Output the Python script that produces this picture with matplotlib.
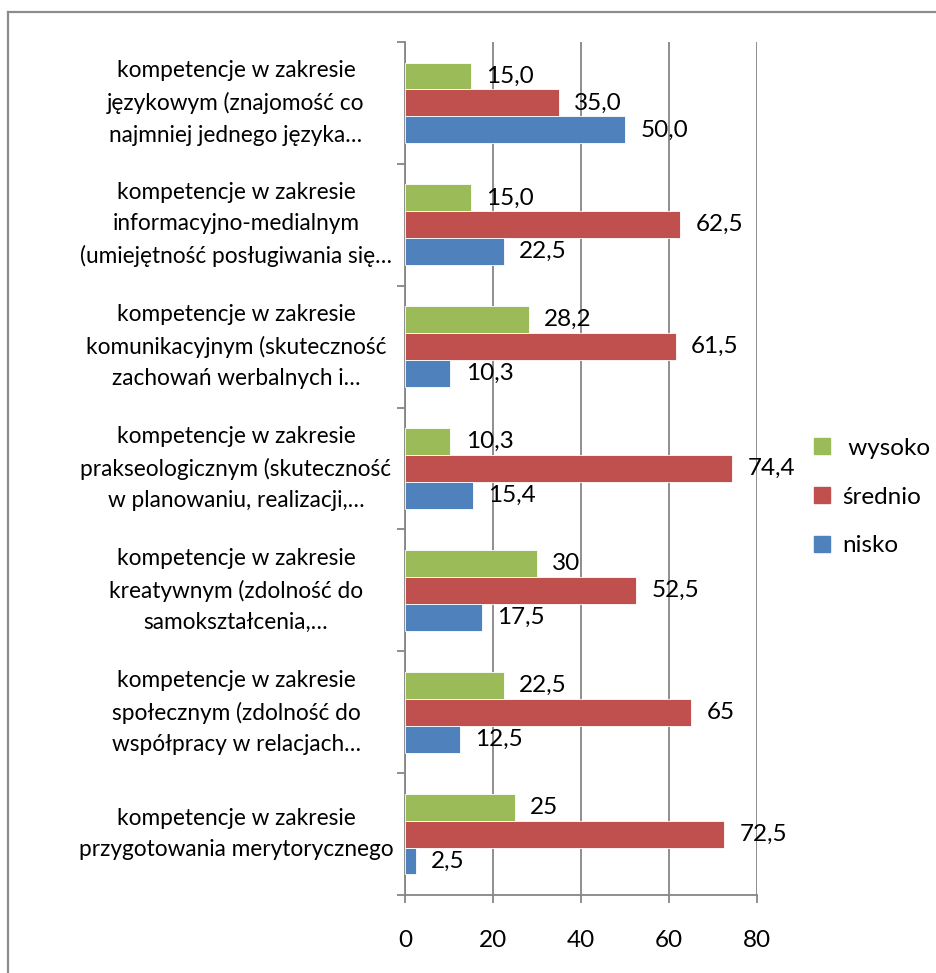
import numpy as np
import matplotlib.pyplot as plt
from matplotlib.patches import Patch
from matplotlib.lines import Line2D
from matplotlib.transforms import blended_transform_factory

plt.rcParams['font.family'] = ['Lato', 'DejaVu Sans']

categories = [
    'kompetencje w zakresie\njęzykowym (znajomość co\nnajmniej jednego języka…',
    'kompetencje w zakresie\ninformacyjno-medialnym\n(umiejętność posługiwania się…',
    'kompetencje w zakresie\nkomunikacyjnym (skuteczność\nzachowań werbalnych i…',
    'kompetencje w zakresie\nprakseologicznym (skuteczność\nw planowaniu, realizacji,…',
    'kompetencje w zakresie\nkreatywnym (zdolność do\nsamokształcenia,…',
    'kompetencje w zakresie\nspołecznym (zdolność do\nwspółpracy w relacjach…',
    'kompetencje w zakresie\nprzygotowania merytorycznego',
]
wysoko = [15.0, 15.0, 28.2, 10.3, 30, 22.5, 25]
srednio = [35.0, 62.5, 61.5, 74.4, 52.5, 65, 72.5]
nisko = [50.0, 22.5, 10.3, 15.4, 17.5, 12.5, 2.5]
wysoko_lbl = ['15,0', '15,0', '28,2', '10,3', '30', '22,5', '25']
srednio_lbl = ['35,0', '62,5', '61,5', '74,4', '52,5', '65', '72,5']
nisko_lbl = ['50,0', '22,5', '10,3', '15,4', '17,5', '12,5', '2,5']

c_w, c_s, c_n = '#9BBB59', '#C0504D', '#4F81BD'
grid_c = '#868686'
fs = 17.5
fs_cat = 16.3

fig = plt.figure(figsize=(9.37, 9.73), dpi=100)
ax = fig.add_axes([405 / 937, 1 - 895 / 973, 352 / 937, 853 / 973])

y = np.arange(len(categories))
h = 0.221
series = [(wysoko, wysoko_lbl, c_w, -h), (srednio, srednio_lbl, c_s, 0), (nisko, nisko_lbl, c_n, h)]
for vals, lbls, col, off in series:
    ax.barh(y + off, vals, height=h, color=col, edgecolor='white', linewidth=0.6, zorder=3)
    for yi, v, t in zip(y + off, vals, lbls):
        ax.annotate(t, (v, yi), xytext=(11, 0), textcoords='offset points',
                    ha='left', va='center', fontsize=fs, zorder=4)

ax.set_xlim(0, 80)
ax.set_ylim(len(categories) - 0.5, -0.5)
ax.set_xticks([0, 20, 40, 60, 80])
ax.set_yticks(np.arange(-0.5, len(categories), 1.0))
ax.set_yticklabels([])
ax.grid(axis='x', color=grid_c, linewidth=1.3, zorder=0)
for s in ['top', 'right']:
    ax.spines[s].set_visible(False)
for s in ['left', 'bottom']:
    ax.spines[s].set_color(grid_c)
    ax.spines[s].set_linewidth(1.3)
ax.tick_params(axis='both', colors=grid_c, length=6, width=1.3, labelsize=fs,
               labelcolor='black')
ax.tick_params(axis='x', pad=19)

tr = blended_transform_factory(ax.transAxes, ax.transData)
for yi, name in zip(y, categories):
    ax.text(-0.48, yi, name, transform=tr, ha='center', va='center',
            multialignment='center', fontsize=fs_cat, linespacing=1.6)

handles = [Patch(color=c_w), Patch(color=c_s), Patch(color=c_n)]
fig.legend(handles, [' wysoko', 'średnio', 'nisko'], loc='center left',
           bbox_to_anchor=(792 / 937, 1 - 497 / 973), frameon=False, fontsize=fs,
           handlelength=0.65, handleheight=0.65, handletextpad=0.5, labelspacing=1.15)

# outer frame (top and left edges)
fig.add_artist(Line2D([8 / 937, 1], [1 - 12 / 973] * 2, transform=fig.transFigure,
                      color='#8c8c8c', linewidth=1.6))
fig.add_artist(Line2D([8 / 937] * 2, [0, 1 - 12 / 973], transform=fig.transFigure,
                      color='#8c8c8c', linewidth=1.6))

fig.savefig('out.png', dpi=100, facecolor='white')
